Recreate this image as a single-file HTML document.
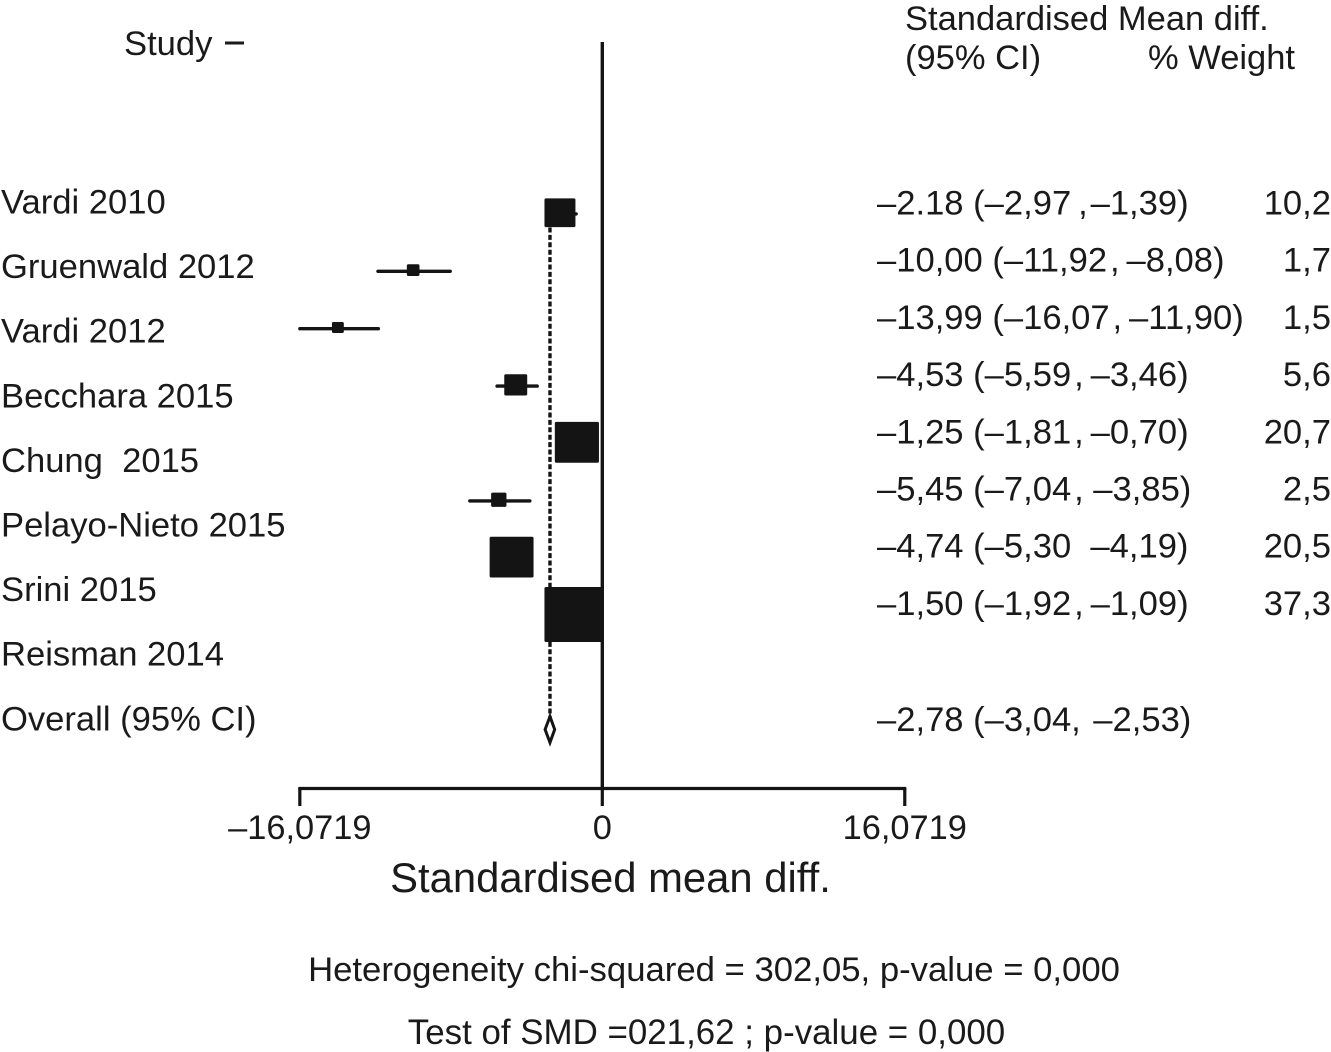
<!DOCTYPE html>
<html lang="en">
<head>
<meta charset="utf-8">
<title>Forest plot: standardised mean difference</title>
<style>
html,body{margin:0;padding:0;background:#fff;width:1331px;height:1052px;overflow:hidden}
svg{display:block}
text{font-family:"Liberation Sans",sans-serif;fill:#1a1a1a}
</style>
</head>
<body>
<svg id="chart" xmlns="http://www.w3.org/2000/svg" width="1331" height="1052" viewBox="0 0 1331 1052">
  <rect x="0" y="0" width="1331" height="1052" fill="#ffffff"/>
  <text x="124" y="55" font-size="34.6">Study</text>
  <line x1="225" y1="43" x2="244" y2="43" stroke="#1a1a1a" stroke-width="3"/>
  <text x="905" y="30" font-size="34.5">Standardised Mean diff.</text>
  <text x="905" y="69" font-size="34.5">(95% CI)</text>
  <text x="1148" y="69" font-size="34.5">% Weight</text>
  <g id="marks"></g>
  <g id="axis"></g>
  <g id="labels"></g>
  <text x="610.5" y="892" font-size="41.8" text-anchor="middle">Standardised mean diff.</text>
  <text x="714" y="981" font-size="34.7" text-anchor="middle">Heterogeneity chi-squared = 302,05, p-value = 0,000</text>
  <text x="706.5" y="1044" font-size="34.9" text-anchor="middle">Test of SMD =021,62 ; p-value = 0,000</text>
</svg>
<script>
const studies = ["Vardi 2010","Gruenwald 2012","Vardi 2012","Becchara 2015","Chung  2015","Pelayo-Nieto 2015","Srini 2015","Reisman 2014","Overall (95% CI)"];
const effects = [-2.25,-10.05,-14.05,-4.6,-1.35,-5.5,-4.82,-1.5];
const ciLower = [-2.97,-11.92,-16.07,-5.59,-1.81,-7.04,-5.30,-1.92];
const ciUpper = [-1.39,-8.08,-11.90,-3.46,-0.70,-3.85,-4.19,-1.09];
const weights = [10.2,1.7,1.5,5.6,20.7,2.5,20.5,37.3];
const effectLabels = ["–2.18 (–2,97\u2009,\u200A–1,39)","–10,00 (–11,92\u200A,\u2009–8,08)","–13,99 (–16,07\u200A,\u2009–11,90)","–4,53 (–5,59\u200A,\u2009–3,46)","–1,25 (–1,81\u200A,\u2009–0,70)","–5,45 (–7,04\u200A, –3,85)","–4,74 (–5,30  –4,19)","–1,50 (–1,92\u200A,\u2009–1,09)"];
const weightLabels = ["10,2","1,7","1,5","5,6","20,7","2,5","20,5","37,3"];
const overallEffect = -2.78;
const overallLower = -3.04;
const overallUpper = -2.53;
const overallLabel = "–2,78 (–3,04,\u200A –2,53)";
const tickValues = [-16.0719,0,16.0719];
const tickLabels = ["–16,0719","0","16,0719"];

const NS = "http://www.w3.org/2000/svg";
const INK = "#141414";
const xScale = v => 602.3 + v * 18.82;
const rowY = i => 212.7 + i * 57.4;
const leftY = i => 213.5 + i * 64.6;
const rightY = i => 214.5 + i * 57.2;

function make(parent, tag, attrs, text) {
  const el = document.createElementNS(NS, tag);
  Object.keys(attrs).forEach(k => el.setAttribute(k, attrs[k]));
  if (text !== undefined) { el.textContent = text; el.setAttribute("xml:space", "preserve"); el.style.whiteSpace = "pre"; }
  parent.appendChild(el);
  return el;
}

const marks = document.getElementById("marks");
const axis = document.getElementById("axis");
const labels = document.getElementById("labels");

const zeroLine = make(marks, "line", {x1:xScale(0),y1:42,x2:xScale(0),y2:790,stroke:INK,"stroke-width":3.4});



const overallLine = make(marks, "line", {x1:xScale(overallEffect),y1:rowY(0),x2:xScale(overallEffect),y2:718,stroke:INK,"stroke-width":3.4,"stroke-dasharray":"5 2.4"});



effects.forEach((e, i) => {
  const y = rowY(i);
  const whisker = make(marks, "line", {x1:xScale(ciLower[i]),y1:y+1.2,x2:xScale(ciUpper[i]),y2:y+1.2,stroke:INK,"stroke-width":3.4,"stroke-linecap":"round"});
  
  
  const w = 9.7 * Math.sqrt(weights[i]);
  const h = 9.0 * Math.sqrt(weights[i]);
  const box = make(marks, "rect", {x:xScale(e)-w/2,y:y-h/2,width:w,height:h,rx:1.5,fill:INK});
  
  
  const effectText = make(labels, "text", {x:877,y:rightY(i),"font-size":34.6}, effectLabels[i]);
  
  
  const weightText = make(labels, "text", {x:1331,y:rightY(i),"font-size":34.6,"text-anchor":"end"}, weightLabels[i]);
  
  
});

studies.forEach((s, i) => {
  const t = make(labels, "text", {x:1,y:leftY(i),"font-size":34.6}, s);
  
  
});

const cy = 729.5;
const diamond = make(marks, "polygon", {points:[[xScale(overallLower),cy],[xScale(overallEffect),cy-13],[xScale(overallUpper),cy],[xScale(overallEffect),cy+13]].map(p=>p.join(",")).join(" "),fill:"#fff",stroke:INK,"stroke-width":3});



const overallText = make(labels, "text", {x:877,y:731,"font-size":34.6}, overallLabel);



const axisLine = make(axis, "line", {x1:xScale(tickValues[0])-1.5,y1:788.5,x2:xScale(tickValues[2])+1.5,y2:788.5,stroke:INK,"stroke-width":3.2});



tickValues.forEach((v, i) => {
  const tick = make(axis, "line", {x1:xScale(v),y1:788,x2:xScale(v),y2:806,stroke:INK,"stroke-width":3.2});
  
  
  const label = make(axis, "text", {x:xScale(v),y:839,"font-size":34.4,"text-anchor":"middle"}, tickLabels[i]);
  
  
});
</script>
</body>
</html>
